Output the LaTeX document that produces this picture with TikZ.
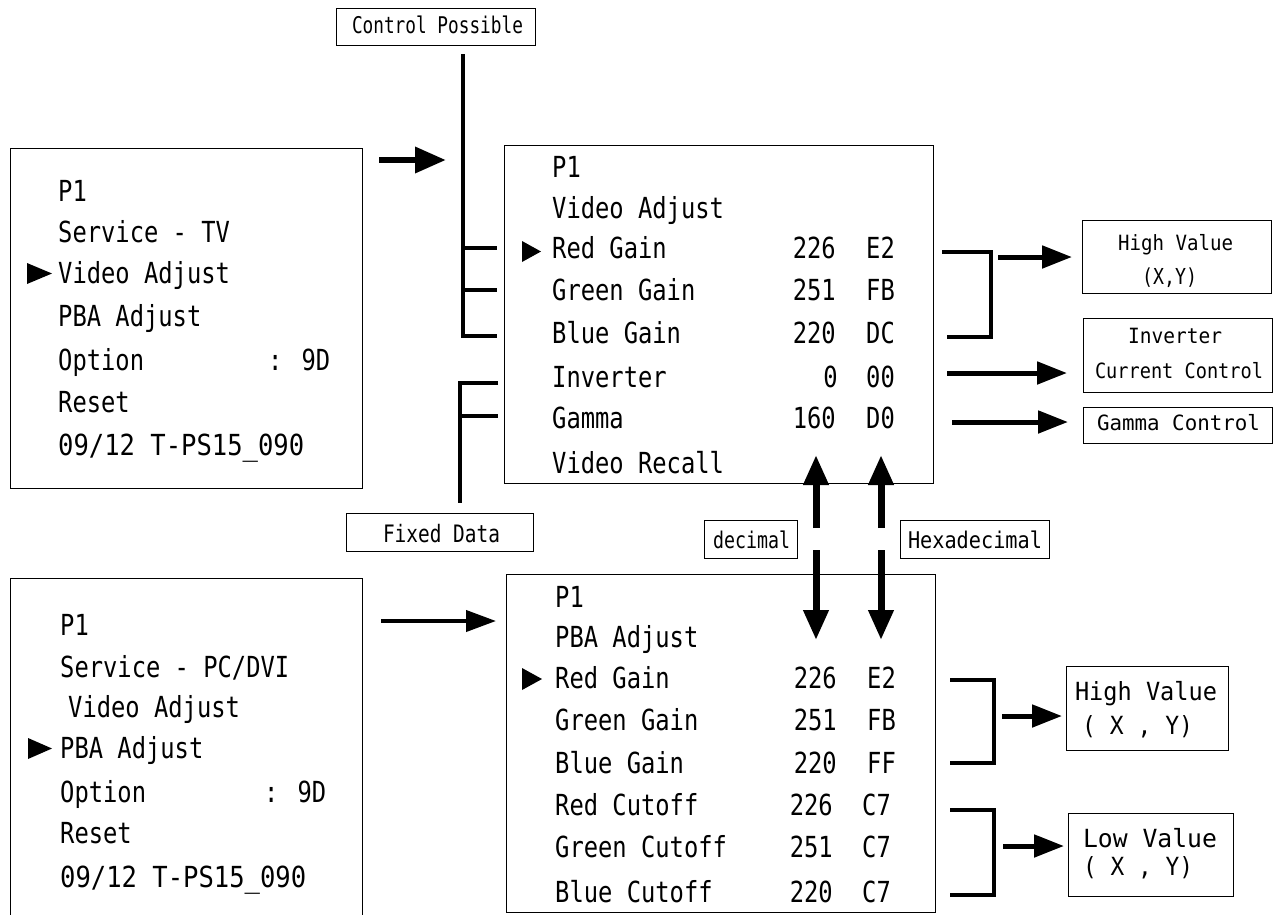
\documentclass[tikz,border=0pt]{standalone}
\usepackage{fontspec}
\usepackage{graphicx}
\usetikzlibrary{arrows.meta}
\newfontfamily\scrfont[FakeStretch=0.82]{DejaVu Sans Mono}
\newfontfamily\labfont{DejaVu Sans Mono}
\newcommand\fitw[2]{\resizebox{#1pt}{\height}{#2}}
\tikzset{
  frame/.style={draw, line width=1.4pt, inner sep=0pt, anchor=north west},
  scr/.style={font=\scrfont\fontsize{29}{30}\selectfont, inner sep=0pt, anchor=base west},
  scrr/.style={font=\scrfont\fontsize{29}{30}\selectfont, inner sep=0pt, anchor=base east},
  lbl/.style={inner sep=0pt, anchor=base},
  brk/.style={line width=4.5pt},
  bigarrow/.style={line width=6.5pt, -{Triangle[length=31pt,width=25pt]}},
  midarrow/.style={line width=5pt, -{Triangle[length=30pt,width=22pt]}},
  thinarrow/.style={line width=4pt, -{Triangle[length=30pt,width=21pt]}},
  vertarrow/.style={line width=7pt, -{Triangle[length=30pt,width=24pt]}},
}
\begin{document}
\begin{tikzpicture}[x=1pt,y=-1pt]
\clip (0,0) rectangle (1275,914);
\fill[white] (0,0) rectangle (1275,914);

% ---------- main frames ----------
\node[frame, minimum width=352pt, minimum height=340pt] (tl) at (10,148) {};
\node[frame, minimum width=352pt, minimum height=350pt] (bl) at (10,578) {};
\node[frame, minimum width=429pt, minimum height=338pt] (tm) at (504,145) {};
\node[frame, minimum width=429pt, minimum height=338pt] (bm) at (506,574) {};

% ---------- label frames ----------
\node[frame, minimum width=199pt, minimum height=37pt] (cpb) at (336,8) {};
\node[frame, minimum width=187pt, minimum height=38pt] (fdb) at (346,513) {};
\node[frame, minimum width=93pt, minimum height=38pt] (deb) at (704,520) {};
\node[frame, minimum width=149pt, minimum height=38pt] (hxb) at (900,520) {};
\node[frame, minimum width=189pt, minimum height=73pt] (hv1) at (1082,220) {};
\node[frame, minimum width=189pt, minimum height=74pt] (icc) at (1083,318) {};
\node[frame, minimum width=189pt, minimum height=36pt] (gmc) at (1083,407) {};
\node[frame, minimum width=162pt, minimum height=84pt] (hv2) at (1066,666) {};
\node[frame, minimum width=165pt, minimum height=83pt] (lv) at (1068,813) {};

% ---------- label texts ----------
\node[lbl, font=\labfont\fontsize{23}{23}\selectfont] (cpt) at (437.5,33) {\fitw{171}{Control Possible}};
\node[lbl, font=\labfont\fontsize{24}{24}\selectfont] (fdt) at (441.5,542) {\fitw{117}{Fixed Data}};
\node[lbl, font=\labfont\fontsize{23}{23}\selectfont] (det) at (751.5,548) {\fitw{77}{decimal}};
\node[lbl, font=\labfont\fontsize{23}{23}\selectfont] (hxt) at (975,548) {\fitw{134}{Hexadecimal}};
\node[lbl, font=\labfont\fontsize{21}{21}\selectfont] (hv1a) at (1175.5,250) {\fitw{115}{High Value}};
\node[lbl, font=\labfont\fontsize{22}{22}\selectfont] (hv1b) at (1169.5,284) {\fitw{55}{(X,Y)}};
\node[lbl, font=\labfont\fontsize{21}{21}\selectfont] (icca) at (1175,343) {\fitw{94}{Inverter}};
\node[lbl, font=\labfont\fontsize{21}{21}\selectfont] (iccb) at (1179,378) {\fitw{168}{Current Control}};
\node[lbl, font=\labfont\fontsize{21}{21}\selectfont] (gmct) at (1178.5,430) {\fitw{163}{Gamma Control}};
\node[lbl, font=\labfont\fontsize{25}{25}\selectfont] (hv2a) at (1146,700) {\fitw{142}{High Value}};
\node[lbl, font=\labfont\fontsize{25}{25}\selectfont] (hv2b) at (1137.5,734) {\fitw{111}{( X , Y)}};
\node[lbl, font=\labfont\fontsize{25}{25}\selectfont] (lva) at (1150,847) {\fitw{134}{Low Value}};
\node[lbl, font=\labfont\fontsize{25}{25}\selectfont] (lvb) at (1138,875) {\fitw{110}{( X , Y)}};

% ---------- top-left menu ----------
\foreach \yy/\txt [count=\i] in {201.5/P1, 242.5/Service - TV, 283.5/Video Adjust, 326/PBA Adjust, 370/Option, 412/Reset}
  \node[scr] (la\i) at (58,\yy) {\txt};
\node[scr] (la7) at (58,455) {\fitw{246}{09/12 T-PS15\_090}};
\node[scr] (la8) at (268,370) {: 9D};
\fill (27,263) -- (52,273.5) -- (27,284) -- cycle;

% ---------- bottom-left menu ----------
\foreach \yy/\txt [count=\i] in {635/P1, 677/{Service - PC/DVI}, 758/PBA Adjust, 802/Option, 843/Reset}
  \node[scr] (lb\i) at (60,\yy) {\txt};
\node[scr] (lb6) at (60,887) {\fitw{246}{09/12 T-PS15\_090}};
\node[scr] (lb7) at (68,717) {Video Adjust};
\node[scr] (lb8) at (264,802) {: 9D};
\fill (28,738) -- (52,748.5) -- (28,759) -- cycle;

% ---------- top-middle menu ----------
\foreach \yy/\txt [count=\i] in {177/P1, 218/Video Adjust, 258/Red Gain, 300/Green Gain, 343/Blue Gain, 387/Inverter, 428/Gamma, 473/Video Recall}
  \node[scr] (ma\i) at (552,\yy) {\txt};
\foreach \yy/\txt [count=\i] in {258/226, 300/251, 343/220, 428/160}
  \node[scrr] (mn\i) at (836,\yy) {\txt};
\node[scrr] (mn5) at (838,387) {0};
\foreach \yy/\txt [count=\i] in {258/E2, 300/FB, 343/DC, 387/00, 428/D0}
  \node[scr] (mh\i) at (866,\yy) {\txt};
\fill (522,241) -- (541,251.5) -- (522,262) -- cycle;

% ---------- bottom-middle menu ----------
\foreach \yy/\txt [count=\i] in {607/P1, 647/PBA Adjust, 688/Red Gain, 730/Green Gain, 773/Blue Gain, 815/Red Cutoff, 857/Green Cutoff, 902/Blue Cutoff}
  \node[scr] (mb\i) at (555,\yy) {\txt};
\foreach \yy/\txt [count=\i] in {688/226, 730/251, 773/220}
  \node[scrr] (bn\i) at (837,\yy) {\txt};
\foreach \yy/\txt [count=\i] in {815/226, 857/251, 902/220}
  \node[scrr] (bc\i) at (833,\yy) {\txt};
\foreach \yy/\txt [count=\i] in {688/E2, 730/FB, 773/FF}
  \node[scr] (bh\i) at (867,\yy) {\txt};
\foreach \yy [count=\i] in {815, 857, 902}
  \node[scr] (bk\i) at (862,\yy) {C7};
\fill (522,668) -- (542,679) -- (522,690) -- cycle;

% ---------- brackets on the left of top-middle ----------
\coordinate (cpl) at (463,54);
\coordinate (cpa) at (497,248);
\coordinate (cpb2) at (497,290);
\coordinate (cpc) at (497,336);
\draw[brk] (cpl) |- (cpc);
\draw[brk] (463,248) -- (cpa);
\draw[brk] (463,290) -- (cpb2);
\coordinate (fda) at (498,383);
\coordinate (fdl) at (460,503);
\draw[brk] (fda) -| (fdl);
\draw[brk] (460,416) -- (498,416);

% ---------- right brackets, top ----------
\draw[brk] (942,252) -| (991,337) -- (947,337);
\coordinate (r1s) at (998,257);
\coordinate (r1e) at (1072,257);
\draw[midarrow] (r1s) -- (r1e);
\coordinate (r2s) at (947,373);
\coordinate (r2e) at (1067,373);
\draw[midarrow] (r2s) -- (r2e);
\coordinate (r3s) at (952,422);
\coordinate (r3e) at (1068,422);
\draw[midarrow] (r3s) -- (r3e);

% ---------- right brackets, bottom ----------
\draw[brk] (950,680) -| (994,763) -- (950,763);
\draw[brk] (950,810) -| (994,895) -- (950,895);
\coordinate (r4s) at (1002,716);
\coordinate (r4e) at (1062,716);
\draw[midarrow] (r4s) -- (r4e);
\coordinate (r5s) at (1003,846);
\coordinate (r5e) at (1064,846);
\draw[midarrow] (r5s) -- (r5e);

% ---------- left arrows ----------
\coordinate (a1s) at (379,160);
\coordinate (a1e) at (446,160);
\draw[bigarrow] (a1s) -- (a1e);
\coordinate (a2s) at (381,621);
\coordinate (a2e) at (496,621);
\draw[thinarrow] (a2s) -- (a2e);

% ---------- vertical arrows ----------
\coordinate (d1a) at (816,528);
\coordinate (d1b) at (816,455);
\coordinate (d1c) at (816,550);
\coordinate (d1d) at (816,640);
\draw[vertarrow] (d1a) -- (d1b);
\draw[vertarrow] (d1c) -- (d1d);
\coordinate (h1a) at (881,528);
\coordinate (h1b) at (881,455);
\coordinate (h1c) at (881,550);
\coordinate (h1d) at (881,640);
\draw[vertarrow] (h1a) -- (h1b);
\draw[vertarrow] (h1c) -- (h1d);
\end{tikzpicture}
\end{document}
